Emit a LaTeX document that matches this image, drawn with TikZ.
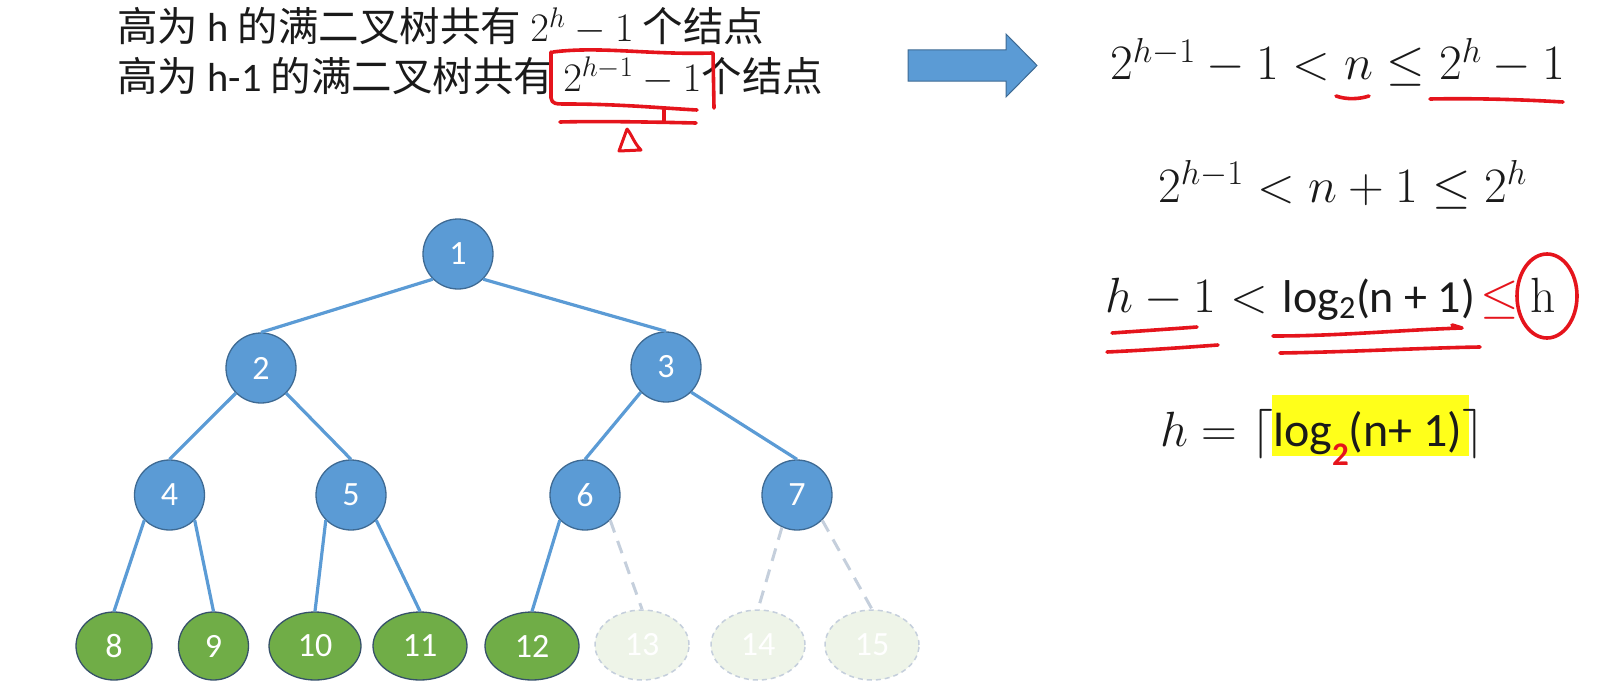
\RequirePackage{fix-cm}
\documentclass[tikz,border=0pt]{standalone}
\usepackage{fontspec}
\usetikzlibrary{shapes.geometric}
\newfontfamily\cjkfont{Noto Sans CJK SC}
\newfontfamily\calfont{Carlito}
\definecolor{nodeblue}{HTML}{5B9BD5}
\definecolor{nodeborder}{HTML}{3E6A93}
\definecolor{greenfill}{HTML}{70AD47}
\definecolor{greenborder}{HTML}{36516A}
\definecolor{fadefill}{HTML}{EEF4E8}
\definecolor{fadeline}{HTML}{C5CFDC}
\definecolor{annot}{HTML}{E5141C}
\definecolor{hlyellow}{HTML}{FFFF1A}
\definecolor{inktext}{HTML}{1A1A1A}
\begin{document}
\begin{tikzpicture}[x=1pt,y=-1pt,
  bnode/.style={circle, fill=nodeblue, draw=nodeborder, line width=1.3pt, minimum size=70pt, inner sep=0pt, text=white, font=\calfont\fontsize{34}{34}\selectfont},
  gnode/.style={ellipse, fill=greenfill, draw=greenborder, line width=1.3pt, minimum height=68pt, minimum width=94pt, inner sep=0pt, text=white, font=\calfont\fontsize{34}{34}\selectfont},
  fnode/.style={ellipse, fill=fadefill, draw=fadeline, dash pattern=on 5pt off 4pt, line width=1.5pt, minimum height=70pt, minimum width=94pt, inner sep=0pt, text=white, font=\calfont\fontsize{34}{34}\selectfont},
  tedge/.style={draw=nodeblue, line width=3.2pt},
  fedge/.style={draw=fadeline, line width=3pt, dash pattern=on 13pt off 9pt},
  rstroke/.style={draw=annot, line width=3.6pt, line cap=round, line join=round},
  topline/.style={anchor=base west, inner sep=0pt, text=inktext, font=\calfont\fontsize{40.5}{46}\selectfont},
  formula/.style={anchor=base west, inner sep=0pt, text=inktext, font=\fontsize{49.5}{56}\selectfont}
]
\useasboundingbox (0,0) rectangle (1619,685);

% top text
\node[topline] (t1) at (117,42) {{\cjkfont 高为} h {\cjkfont 的满二叉树共有} $2^h-1$ {\cjkfont 个结点}};
\node[topline] (t2) at (117,91) {{\cjkfont 高为} h-1 {\cjkfont 的满二叉树共有} $2^{h-1}-1${\cjkfont 个结点}};

% big arrow
\draw[fill=nodeblue, draw=nodeborder, line width=1pt] (908,50) -- (1006,50) -- (1006,34) -- (1037,65.5) -- (1006,97) -- (1006,81) -- (908,81) -- cycle;

% formulas
\fill[hlyellow] (1272,395) rectangle (1469,456);
\node[formula] (f1) at (1110,80) {$2^{h-1}-1<n\le 2^h-1$};
\node[formula] (f2) at (1158,202) {$2^{h-1}<n+1\le 2^h$};
\node[formula] (f3) at (1105,312) {$h-1<$ {\calfont\fontsize{46}{52}\selectfont log\textsubscript{2}(n + 1)}\hspace{5pt}{\color{annot}$\le$}\hspace{12pt}h};
\node[formula] (f4) at (1160,446) {$h=\lceil$\mbox{\calfont\fontsize{48}{52}\selectfont log\raisebox{-0.4em}{\color{annot}\bfseries\fontsize{33}{33}\selectfont 2}(n+ 1)}$\rceil$};

% tree nodes
\node[bnode] (n1) at (458,254) {1};
\node[bnode] (n2) at (261,368) {2};
\node[bnode] (n3) at (666,367) {3};
\node[bnode] (n4) at (169.5,495) {4};
\node[bnode] (n5) at (351,495) {5};
\node[bnode] (n6) at (585,495) {6};
\node[bnode] (n7) at (797,495) {7};
\node[gnode, minimum width=76pt] (n8) at (114,646) {8};
\node[gnode, minimum width=70pt] (n9) at (213.5,646) {9};
\node[gnode, minimum width=92pt] (n10) at (315,646) {10};
\node[gnode] (n11) at (420,646) {11};
\node[gnode] (n12) at (532,646) {12};
\node[fnode] (n13) at (642,645) {13};
\node[fnode] (n14) at (758,645) {14};
\node[fnode] (n15) at (872,645) {15};

% tree edges
\draw[tedge] (n1.225) -- (n2.north);
\draw[tedge] (n1.315) -- (n3.north);
\draw[tedge] (n2.225) -- (n4.north);
\draw[tedge] (n2.315) -- (n5.north);
\draw[tedge] (n3.225) -- (n6.north);
\draw[tedge] (n3.315) -- (n7.north);
\draw[tedge] (n4.225) -- (n8.north);
\draw[tedge] (n4.315) -- (n9.north);
\draw[tedge] (n5.225) -- (n10.north);
\draw[tedge] (n5.315) -- (n11.north);
\draw[tedge] (n6.225) -- (n12.north);
\draw[fedge] (n6.315) -- (n13.north);
\draw[fedge] (n7.245) -- (n14.north);
\draw[fedge] (n7.315) -- (n15.north);

% red annotations, top text
\draw[rstroke] (553,52) .. controls (600,46) and (650,55) .. (712,53);
\draw[rstroke] (551,52) -- (551,98) .. controls (552,104) and (556,104) .. (566,104) .. controls (620,104) and (660,108) .. (697,110);
\draw[rstroke] (713,53) -- (714,108);
\draw[rstroke] (560,122) .. controls (600,121) and (650,122) .. (696,123);
\draw[rstroke] (664,110) -- (664,121);
\draw[rstroke, line width=3pt] (627,129) -- (619,151) -- (641,150) .. controls (634,143) and (632,135) .. (627,129);

% red annotations, formulas
\draw[rstroke] (1336,96) .. controls (1347,100) and (1360,99) .. (1369,96);
\draw[rstroke] (1430,99) .. controls (1480,98) and (1530,100) .. (1563,102);
\draw[rstroke] (1112,333) .. controls (1140,331) and (1170,329) .. (1197,327);
\draw[rstroke] (1107,352) .. controls (1150,350) and (1190,347) .. (1218,345);
\draw[rstroke] (1273,336) .. controls (1340,336) and (1400,330) .. (1462,328) -- (1452,325);
\draw[rstroke] (1280,353) .. controls (1350,352) and (1420,348) .. (1480,347);
\draw[rstroke] (1547,296) ellipse [x radius=30pt, y radius=42pt];
\end{tikzpicture}
\end{document}
